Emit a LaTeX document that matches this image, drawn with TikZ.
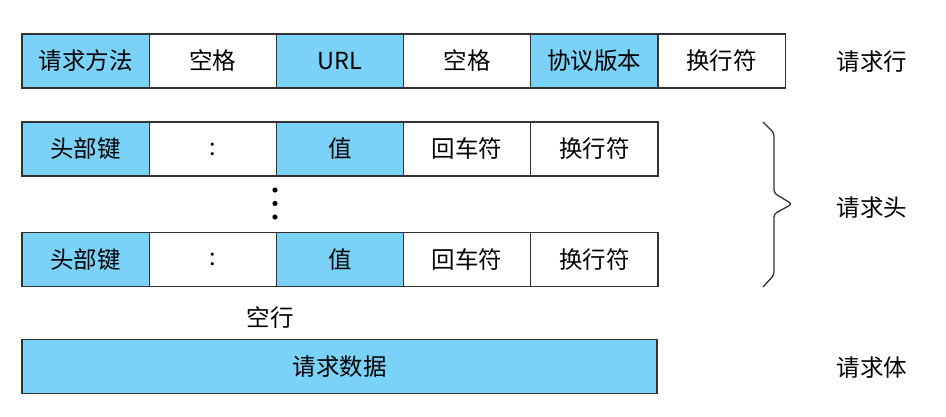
\documentclass[tikz,border=0pt]{standalone}
\usepackage{fontspec}
\setmainfont{Noto Sans CJK SC}
\usepackage{tikz}
\usetikzlibrary{positioning}
\definecolor{fieldblue}{RGB}{122,210,248}
\definecolor{edgegray}{RGB}{50,50,50}
\tikzset{cell/.style={draw=edgegray,line width=1.3pt,minimum width=127.2pt,minimum height=54pt,
  inner sep=0pt,outer sep=0pt,font=\fontsize{23.5}{23.5}\selectfont},
  key/.style={cell,fill=fieldblue},
  side/.style={font=\fontsize{23.5}{23.5}\selectfont}}

\begin{document}
\begin{tikzpicture}[x=1pt,y=-1pt]
  \useasboundingbox (0,0) rectangle (946,416);
  % request line
  \node[key,anchor=west] (method) at (22,61) {请求方法};
  \node[cell,right=0pt of method] (sp1) {空格};
  \node[key,right=0pt of sp1] (url) {URL};
  \node[cell,right=0pt of url] (sp2) {空格};
  \node[key,right=0pt of sp2] (version) {协议版本};
  \node[cell,right=0pt of version] (lf1) {换行符};
  % header lines
  \node[key,anchor=west] (hkeyA) at (22,149) {头部键};
  \node[cell,right=0pt of hkeyA] (colonA) {:};
  \node[key,right=0pt of colonA] (valA) {值};
  \node[cell,right=0pt of valA] (crA) {回车符};
  \node[cell,right=0pt of crA] (lfA) {换行符};
  \node[key,anchor=west] (hkeyB) at (22,259.5) {头部键};
  \node[cell,right=0pt of hkeyB] (colonB) {:};
  \node[key,right=0pt of colonB] (valB) {值};
  \node[cell,right=0pt of valB] (crB) {回车符};
  \node[cell,right=0pt of crB] (lfB) {换行符};
  \fill (275,190) circle (2.6) (275,203.5) circle (2.6) (275,217) circle (2.6);
  \node[side] (blank) at (270,318) {空行};
  % body
  \node[key,minimum width=635pt,anchor=west] (body) at (22,366.5) {请求数据};
  % labels
  \node[side] (lineLabel) at (872,62) {请求行};
  \node[side] (headLabel) at (872,208) {请求头};
  \node[side] (bodyLabel) at (872,368) {请求体};
  \draw[edgegray,line width=1.3pt,rounded corners=3pt]
    (763,122) -- (774,133) -- (774,193) -- (792,204) -- (774,214) -- (774,275) -- (763,287);
\end{tikzpicture}
\end{document}
